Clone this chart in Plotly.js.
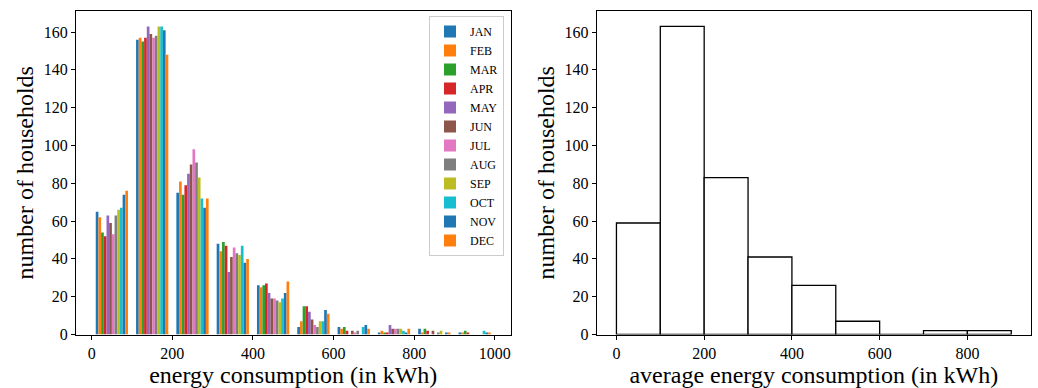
<!DOCTYPE html>
<html>
<head>
<meta charset="utf-8">
<script src="https://cdn.plot.ly/plotly-3.0.1.min.js"></script>
<style>html,body{margin:0;padding:0;background:#fff;}#chart{width:1038px;height:388px;}</style>
</head>
<body>
<div id="chart"></div>
<script>
// ---- data ----
const months = ['JAN','FEB','MAR','APR','MAY','JUN','JUL','AUG','SEP','OCT','NOV','DEC'];
const binCenters = [50,150,250,350,450,550,650,750,850,950];
const jan = [65,156,75,48,26,4,4,1,3,1];
const feb = [62,157,81,44,25,7,3,2,1,1];
const mar = [54,155,74,49,26,15,4,1,3,2];
const apr = [52,157,79,47,27,15,2,1,2,1];
const may = [63,163,85,33,22,12,0,5,0,0];
const jun = [59,159,90,41,19,8,2,3,2,0];
const jul = [53,157,98,46,19,5,1,3,0,0];
const aug = [63,158,91,43,18,4,2,3,1,0];
const sep = [66,163,83,42,17,7,0,3,2,0];
const oct = [67,163,72,47,19,7,4,2,0,2];
const nov = [74,161,67,38,22,13,5,1,1,1];
const dec = [76,148,72,40,28,11,3,3,1,1];
const monthlyCounts = [jan,feb,mar,apr,may,jun,jul,aug,sep,oct,nov,dec];

const avgBinCenters = [50,150,250,350,450,550,650,750,850];
const avgCounts = [59,163,83,41,26,7,0,2,2];

const leftXTicks = [0,200,400,600,800,1000];
const rightXTicks = [0,200,400,600,800];
const yTicks = [0,20,40,60,80,100,120,140,160];

// ---- style ----
const colors = ['#1f77b4','#ff7f0e','#2ca02c','#d62728','#9467bd','#8c564b','#e377c2','#7f7f7f','#bcbd22','#17becf','#1f77b4','#ff7f0e'];
const FONT = 'Liberation Serif';

const traces = months.map((m,i)=>({
  type:'bar', name:m, x:binCenters, y:monthlyCounts[i],
  marker:{color:colors[i], line:{width:0}},
  xaxis:'x', yaxis:'y'
}));
traces.push({
  type:'bar', x:avgBinCenters, y:avgCounts, width:avgBinCenters.map(()=>100),
  marker:{color:'#ffffff', line:{color:'#000000', width:1.3}},
  xaxis:'x2', yaxis:'y2', showlegend:false, offsetgroup:'avg'
});

function ax(extra){
  return Object.assign({
    showgrid:false, zeroline:false, showline:true, mirror:true,
    linecolor:'#000', linewidth:1, ticks:'outside', ticklen:4, tickwidth:1, tickcolor:'#000',
    tickfont:{family:FONT, size:16, color:'#000'}
  }, extra);
}
function ttl(text, standoff){
  return {text:text, font:{family:FONT, size:24, color:'#000'}, standoff:standoff};
}
const yMax = 163*1.05;
const yDom = [(388-334.5)/388, (388-11)/388];

const layout = {
  width:1038, height:388,
  margin:{l:0,r:0,t:0,b:0},
  paper_bgcolor:'#fff', plot_bgcolor:'#fff',
  barmode:'group', bargap:0.2, bargroupgap:0,
  font:{family:FONT, size:16, color:'#000'},
  xaxis: ax({domain:[76/1038, 510.5/1038], range:[-39,1039], tickmode:'array', tickvals:leftXTicks,
    title:ttl('energy consumption (in kWh)', 2), anchor:'y'}),
  yaxis: ax({domain:yDom, range:[0,yMax], tickmode:'array', tickvals:yTicks,
    title:ttl('number of households', 3), anchor:'x'}),
  xaxis2: ax({domain:[596.7/1038, 1031/1038], range:[-45,945], tickmode:'array', tickvals:rightXTicks,
    title:ttl('average energy consumption (in kWh)', 2), anchor:'y2'}),
  yaxis2: ax({domain:yDom, range:[0,yMax], tickmode:'array', tickvals:yTicks,
    title:ttl('number of households', 3), anchor:'x2'}),
  legend:{x:504/1038, y:1-16/388, xanchor:'right', yanchor:'top', bgcolor:'rgba(255,255,255,0.8)',
    bordercolor:'#cccccc', borderwidth:1, font:{family:FONT, size:12, color:'#000'}, tracegroupgap:0}
};

Plotly.newPlot('chart', traces, layout, {displayModeBar:false, staticPlot:true});
</script>
</body>
</html>
